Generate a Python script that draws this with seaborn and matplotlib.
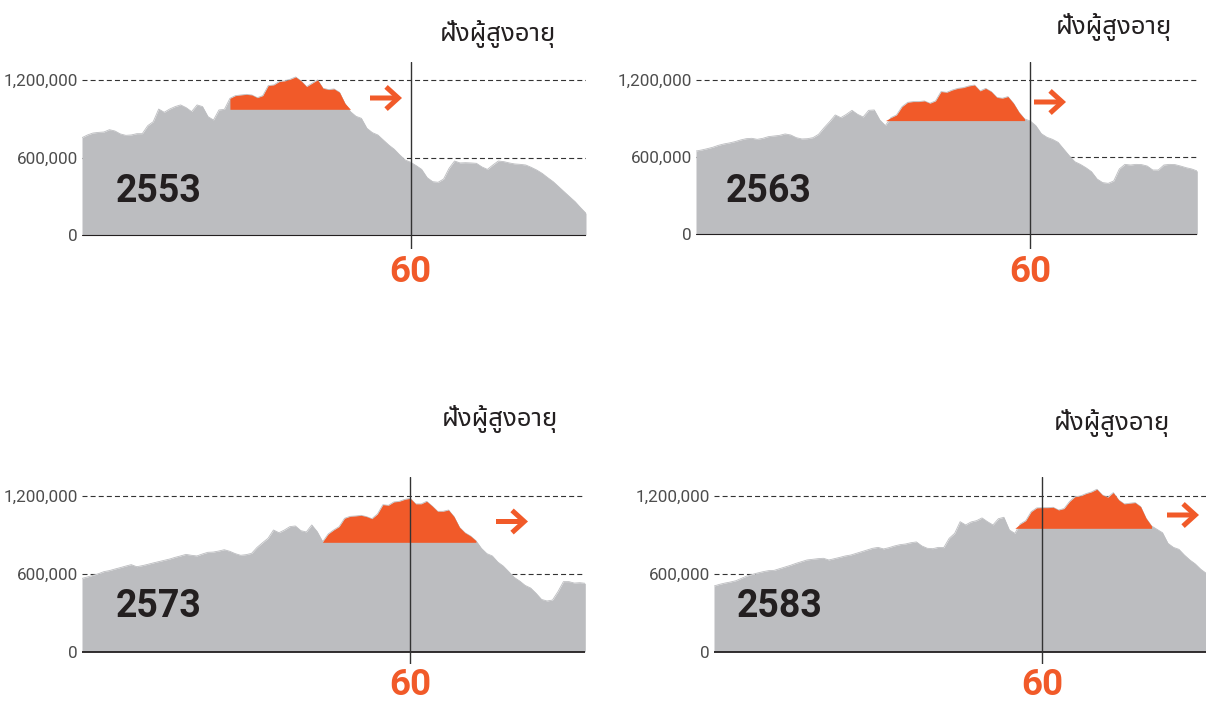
import numpy as np
import pandas as pd
import matplotlib
matplotlib.use("Agg")
import matplotlib.pyplot as plt
import seaborn as sns
from matplotlib import font_manager, ft2font

# ---------------- data (population by single year of age, thousands) ----------------
YEARS = ["2553", "2563", "2573", "2583"]

POP_2553 = [755, 776, 791, 796, 799, 817, 807, 784, 773, 776,
            786, 786, 848, 879, 977, 952, 977, 996, 1009, 988,
            957, 1009, 996, 918, 892, 970, 975, 1060, 1081, 1086,
            1091, 1086, 1065, 1081, 1159, 1164, 1190, 1195, 1208, 1226,
            1195, 1151, 1177, 1203, 1138, 1128, 1133, 1107, 1021, 957,
            921, 905, 828, 794, 776, 737, 698, 665, 621, 582,
            564, 538, 509, 445, 414, 409, 434, 517, 574, 559,
            561, 559, 556, 528, 509, 543, 574, 569, 559, 551,
            548, 543, 525, 504, 478, 445, 414, 375, 336, 297,
            259, 212, 168]

POP_2563 = [649, 657, 667, 678, 693, 704, 712, 722, 735, 745,
            748, 740, 748, 761, 766, 771, 782, 774, 753, 743,
            745, 753, 779, 831, 878, 930, 909, 935, 966, 935,
            914, 966, 969, 891, 847, 909, 930, 995, 1028, 1034,
            1034, 1039, 1021, 1039, 1112, 1106, 1124, 1137, 1143, 1156,
            1163, 1117, 1137, 1112, 1067, 1060, 1073, 1021, 950, 899,
            883, 847, 784, 756, 740, 717, 665, 613, 566, 545,
            519, 488, 431, 403, 397, 416, 509, 545, 540, 545,
            543, 532, 501, 501, 540, 545, 543, 532, 519, 509,
            493]

POP_2573 = [565, 576, 589, 601, 617, 625, 637, 648, 660, 671,
            655, 663, 673, 684, 694, 704, 714, 727, 738, 750,
            743, 738, 753, 766, 768, 776, 786, 774, 756, 743,
            748, 758, 804, 840, 874, 938, 917, 938, 964, 969,
            933, 923, 977, 925, 848, 907, 938, 964, 1028, 1043,
            1046, 1051, 1041, 1025, 1061, 1133, 1128, 1154, 1159, 1174,
            1182, 1139, 1139, 1159, 1123, 1082, 1082, 1092, 1041, 959,
            917, 892, 856, 797, 756, 738, 691, 660, 617, 573,
            545, 511, 491, 450, 403, 391, 398, 463, 540, 540,
            529, 532, 527]

POP_2583 = [506, 519, 529, 537, 547, 565, 583, 596, 607, 617,
            625, 627, 640, 653, 666, 681, 694, 707, 712, 717,
            720, 707, 717, 727, 738, 745, 758, 771, 784, 797,
            804, 792, 802, 815, 825, 830, 840, 846, 815, 797,
            794, 804, 802, 874, 912, 1002, 977, 1000, 1010, 1031,
            1002, 977, 1025, 1036, 938, 912, 984, 1010, 1079, 1108,
            1110, 1110, 1113, 1092, 1103, 1157, 1195, 1200, 1218, 1231,
            1252, 1208, 1190, 1226, 1169, 1139, 1144, 1149, 1118, 1028,
            969, 943, 917, 835, 804, 789, 745, 707, 676, 635,
            604]

HIGHLIGHT_START = [27, 34, 44, 55]          # age where highlighted cohort begins
HIGHLIGHT_END = [49, 59, 72, 80]            # age where it ends
HIGHLIGHT_LEVEL = [975, 886, 843, 951]      # thousands, base of highlighted band

Y_TICKS = [0, 600000, 1200000]
Y_TICK_LABELS = ["0", "600,000", "1,200,000"]
GRID_LEVELS = [600000, 1200000]
AGE_MARK = 60
AGE_MARK_LABEL = "60"
SIDE_LABEL = "ฝั่งผู้สูงอายุ"

# ---------------- style / layout ----------------
GREY = "#bcbdc0"
ORANGE = "#f15a29"
DARK = "#231f20"
W, H = 1206, 703

# pixel layout of each panel (y measured from the top of the image)
LAYOUT = [
    dict(left=82, right=586, top=62, bottom=249, zero=235, y12=80.3, xmax=92, base_lw=0.8,
         title=(498, 41), year=(116, 201.5), mark_y=282, arrow=(370, 402, 98)),
    dict(left=696, right=1197.3, top=62, bottom=249, zero=234.3, y12=80.3, xmax=90, base_lw=0.8,
         title=(1114, 34), year=(726, 201.5), mark_y=282, arrow=(1034, 1066, 102)),
    dict(left=82, right=585.3, top=477.3, bottom=664.3, zero=651.7, y12=496, xmax=92, base_lw=1.3,
         title=(500, 426), year=(116, 617), mark_y=695, arrow=(496, 528, 521.5)),
    dict(left=714, right=1217.2, top=477.3, bottom=664.3, zero=651.7, y12=496, xmax=92, base_lw=1.3,
         title=(1112, 430), year=(737, 617), mark_y=695, arrow=(1167, 1199, 515)),
]


def find_thai_family():
    preferred = ["Noto Sans Thai", "Noto Sans Thai UI", "Noto Sans Thai Looped", "Sarabun",
                 "Loma", "Garuda", "Waree", "Umpush", "Kinnari", "Norasi", "Sawasdee",
                 "Tlwg Typo", "Laksaman", "Purisa"]
    found = []
    for fe in font_manager.fontManager.ttflist:
        try:
            f = ft2font.FT2Font(fe.fname)
            if 0x0E1D in f.get_charmap():
                found.append(fe.name)
        except Exception:
            pass
    for p in preferred:
        if p in found:
            return p
    return found[0] if found else None


sns.set_theme(style="white")
plt.rcParams["font.family"] = ["Roboto", "DejaVu Sans"]
thai = find_thai_family()
thai_family = [thai, "DejaVu Sans"] if thai else ["DejaVu Sans"]

fig = plt.figure(figsize=(W / 100, H / 100), dpi=100)
fig.patch.set_facecolor("white")

series = [POP_2553, POP_2563, POP_2573, POP_2583]

for i, (year, pop, lay) in enumerate(zip(YEARS, series, LAYOUT)):
    vals = np.array(pop, dtype=float) * 1000
    ages = np.arange(len(vals))
    df = pd.DataFrame({"age": ages, "pop": vals})

    ax = fig.add_axes([lay["left"] / W, 1 - lay["bottom"] / H,
                       (lay["right"] - lay["left"]) / W, (lay["bottom"] - lay["top"]) / H])
    ax.set_facecolor("none")
    per_px = 1_200_000 / (lay["zero"] - lay["y12"])
    ax.set_ylim(-(lay["bottom"] - lay["zero"]) * per_px, (lay["zero"] - lay["top"]) * per_px)
    ax.set_xlim(0, lay["xmax"])

    for g in GRID_LEVELS:
        ax.axhline(g, color="#333333", lw=0.8, linestyle=(0, (4.5, 2.8)), zorder=1)

    ax.fill_between(df["age"], 0, df["pop"], color=GREY, lw=0, zorder=2)
    sns.lineplot(data=df, x="age", y="pop", ax=ax, color=GREY, lw=0.6, zorder=2)

    lvl = HIGHLIGHT_LEVEL[i] * 1000
    sel = (ages >= HIGHLIGHT_START[i]) & (ages <= HIGHLIGHT_END[i])
    ax.fill_between(ages[sel], lvl, np.maximum(vals[sel], lvl), color=ORANGE, lw=0, zorder=3)

    ax.axhline(0, color=DARK, lw=lay["base_lw"], zorder=4)
    ax.axvline(AGE_MARK, color="#333333", lw=1.0, zorder=5)

    ax.set_xlabel("")
    ax.set_ylabel("")
    ax.set_xticks([])
    ax.set_yticks(Y_TICKS)
    ax.set_yticklabels(Y_TICK_LABELS)
    ax.tick_params(axis="y", length=0, pad=3, labelsize=12.3, labelcolor="#4d4d4d")
    for lab in ax.get_yticklabels():
        lab.set_fontweight("normal")
    for s in ax.spines.values():
        s.set_visible(False)

    # age 60 label
    ax.annotate(AGE_MARK_LABEL, xy=(AGE_MARK, 0), xycoords=ax.get_xaxis_transform(),
                xytext=(0, -(lay["mark_y"] - lay["bottom"]) * 0.72), textcoords="offset points",
                ha="center", va="baseline", fontsize=26.5, fontweight="bold", color=ORANGE,
                annotation_clip=False)

    # year label
    fig.text(lay["year"][0] / W, 1 - lay["year"][1] / H, year, ha="left", va="baseline",
             fontsize=27, fontweight="bold", color=DARK)

    # side label
    fig.text(lay["title"][0] / W, 1 - lay["title"][1] / H, SIDE_LABEL, ha="center",
             va="baseline", fontsize=18.5, color=DARK, family=thai_family)

    # arrow
    x0, x1, ya = lay["arrow"]
    fig.add_artist(matplotlib.patches.FancyArrowPatch(
        (x0 / W, 1 - ya / H), (x1 / W, 1 - ya / H), transform=fig.transFigure,
        arrowstyle="->,head_length=0.55,head_width=0.5", mutation_scale=16,
        lw=3.6, color=ORANGE, shrinkA=0, shrinkB=0, joinstyle="miter", capstyle="butt"))

fig.savefig("out.png", dpi=100, facecolor="white")
